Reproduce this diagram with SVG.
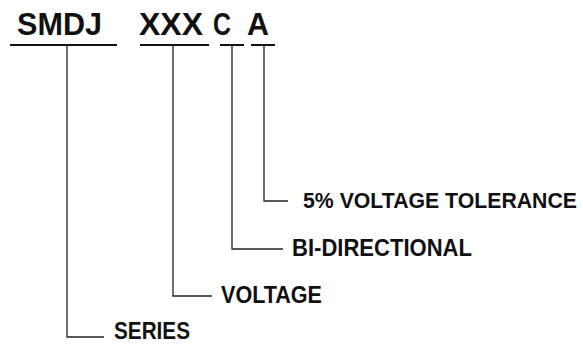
<svg xmlns="http://www.w3.org/2000/svg" width="583" height="344" viewBox="0 0 583 344">
<style>
.t{font-family:"Liberation Sans",Arial,sans-serif;font-weight:bold;fill:#111}
.big{font-size:31px}
.lab{font-size:23px}
.ul{stroke:#111;stroke-width:2;fill:none}
.c{stroke:#222;stroke-width:1.3;fill:none}
</style>
<rect width="583" height="344" fill="#fff"/>
<g id="code">
<g id="smdj"><text class="t big" x="17" y="35" textLength="85" lengthAdjust="spacingAndGlyphs">SMDJ</text><line class="ul" x1="10" y1="45" x2="117" y2="45"/></g>
<g id="xxx"><text class="t big" x="139" y="35" textLength="64" lengthAdjust="spacingAndGlyphs">XXX</text><line class="ul" x1="140" y1="45" x2="209" y2="45"/></g>
<g id="c"><text class="t big" x="213" y="35" textLength="18" lengthAdjust="spacingAndGlyphs">C</text><line class="ul" x1="220" y1="45" x2="244" y2="45"/></g>
<g id="a"><text class="t big" x="247" y="35" textLength="22" lengthAdjust="spacingAndGlyphs">A</text><line class="ul" x1="251" y1="45" x2="275" y2="45"/></g>
</g>
<g id="connectors">
<polyline class="c" points="264,45 264,201 288,201"/>
<polyline class="c" points="232,45 232,249 283,249"/>
<polyline class="c" points="173,45 173,296 212,296"/>
<polyline class="c" points="67,45 67,337 104,337"/>
</g>
<g id="tolerance"><text class="t" style="font-size:21.2px" x="303" y="208" textLength="274" lengthAdjust="spacingAndGlyphs">5% VOLTAGE TOLERANCE</text></g>
<g id="bidir"><text class="t lab" x="292" y="256" textLength="180" lengthAdjust="spacingAndGlyphs">BI-DIRECTIONAL</text></g>
<g id="voltage"><text class="t lab" x="221" y="303" textLength="101" lengthAdjust="spacingAndGlyphs">VOLTAGE</text></g>
<g id="series"><text class="t lab" x="114" y="339" textLength="76" lengthAdjust="spacingAndGlyphs">SERIES</text></g>
</svg>
